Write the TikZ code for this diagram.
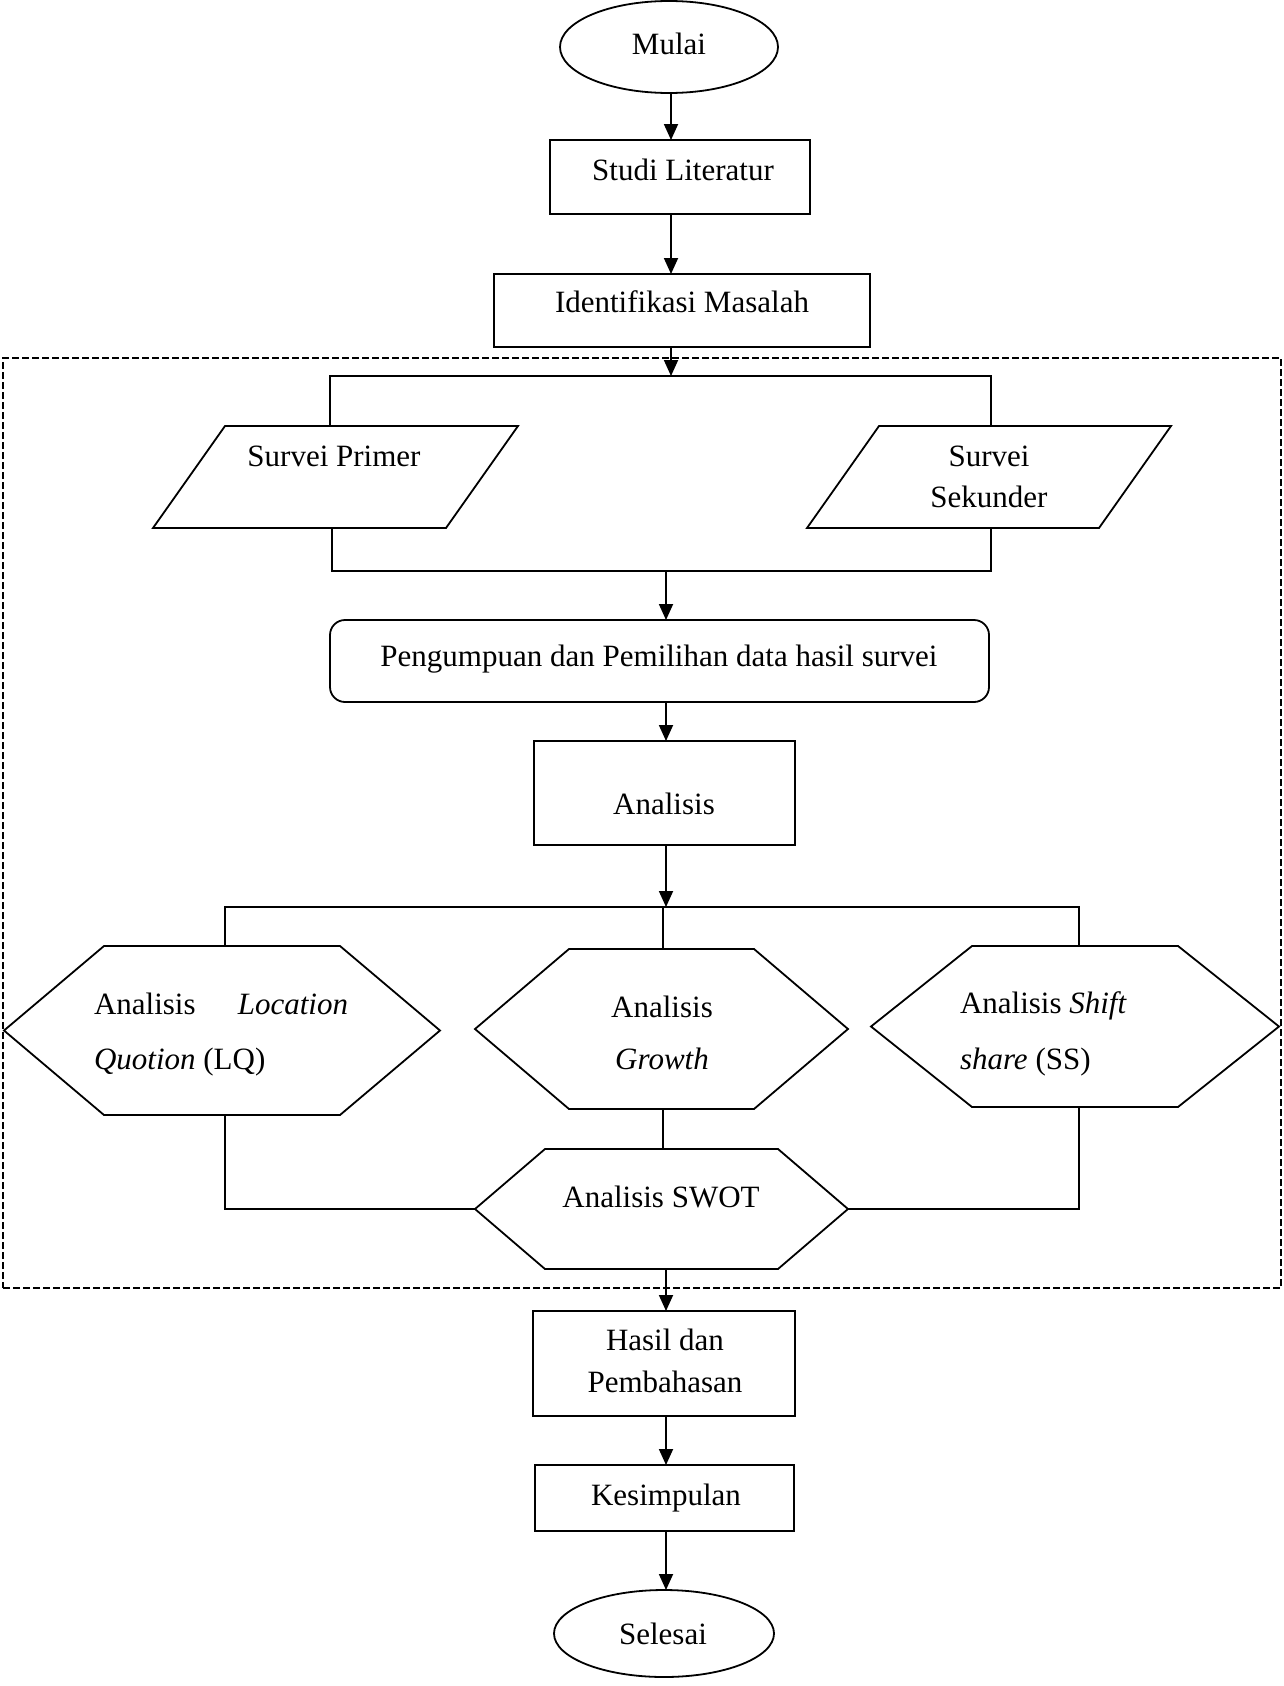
\documentclass[tikz,border=0pt]{standalone}
\usepackage{fontspec}
\setmainfont{Liberation Serif}
\usetikzlibrary{shapes.geometric,arrows.meta,calc}
\newcommand\hexpath[2]{\draw[shapeline] ($(#1.north west)+(#2,0)$) -- ($(#1.north east)-(#2,0)$) -- (#1.east) -- ($(#1.south east)-(#2,0)$) -- ($(#1.south west)+(#2,0)$) -- (#1.west) -- cycle;}
\newcommand\parapath[2]{\draw[shapeline] ($(#1.north west)+(#2,0)$) -- (#1.north east) -- ($(#1.south east)-(#2,0)$) -- (#1.south west) -- cycle;}
\tikzset{
  shapeline/.style={line width=1.8pt, line join=miter},
  box/.style={draw, line width=1.8pt, inner sep=0pt, outer sep=0pt, fill=white},
  blank/.style={inner sep=0pt, outer sep=0pt},
  lbl/.style={inner sep=0pt, outer sep=0pt, text height=20pt, text depth=0pt, font=\fontsize{31pt}{37pt}\selectfont},
  conn/.style={line width=1.6pt},
  arr/.style={line width=1.8pt, -{Triangle[length=16pt,width=14pt]}},
  grp/.style={draw, line width=1.6pt, dash pattern=on 7pt off 3pt, inner sep=0pt, outer sep=0pt}
}
\begin{document}
\begin{tikzpicture}[x=1pt,y=-1pt]
\useasboundingbox[fill=white] (0,0) rectangle (1284,1686);

% group frame
\node[grp, minimum width=1278pt, minimum height=930pt] (frame) at (642,823) {};

% spine coordinates
\coordinate (sp1) at (671,0);
\coordinate (sp2) at (666,0);

% top part
\node[box, ellipse, minimum width=218pt, minimum height=92pt] (mulai) at (669,47) {};
\node[box, minimum width=260pt, minimum height=74pt] (studi) at (680,177) {};
\node[box, minimum width=376pt, minimum height=73pt] (ident) at (682,310.5) {};

\draw[arr] (mulai.south -| sp1) -- (studi.north -| sp1);
\draw[arr] (studi.south -| sp1) -- (ident.north -| sp1);

% branch to surveys
\coordinate (brL) at (330,376);
\coordinate (brR) at (991,376);
\node[blank, minimum width=365pt, minimum height=102pt] (prim) at (335.5,477) {};
\node[blank, minimum width=364pt, minimum height=102pt] (sek) at (989,477) {};
\parapath{prim}{72}
\parapath{sek}{72}
\draw[conn] (brL |- prim.north) -- (brL) -- (brR) -- (brR |- sek.north);
\draw[arr] (ident.south -| sp1) -- (sp1 |- brL);

% join
\coordinate (jL) at (332,571);
\coordinate (jR) at (991,571);
\draw[conn] (jL |- prim.south) -- (jL) -- (jR) -- (jR |- sek.south);

\node[box, rounded corners=15pt, minimum width=659pt, minimum height=82pt] (peng) at (659.5,661) {};
\draw[arr] (sp2 |- jL) -- (peng.north -| sp2);

\node[box, minimum width=261pt, minimum height=104pt] (anal) at (664.5,793) {};
\draw[arr] (peng.south -| sp2) -- (anal.north -| sp2);

% hexagons
\coordinate (bL) at (225,907);
\coordinate (bM) at (663,907);
\coordinate (bR) at (1079,907);
\node[blank, minimum width=436pt, minimum height=169pt] (lq) at (222,1030.5) {};
\node[blank, minimum width=373pt, minimum height=160pt] (gr) at (661.5,1029) {};
\node[blank, minimum width=408pt, minimum height=161pt] (ss) at (1075,1026.5) {};
\node[blank, minimum width=373pt, minimum height=120pt] (swot) at (661.5,1209) {};
\hexpath{lq}{100}
\hexpath{gr}{94}
\hexpath{ss}{101}
\hexpath{swot}{70}
\draw[conn] (bL |- lq.north) -- (bL) -- (bR) -- (bR |- ss.north);
\draw[conn] (bM) -- (bM |- gr.north);
\draw[arr] (anal.south -| sp2) -- (sp2 |- bL);
\draw[conn] (bM |- gr.south) -- (bM |- swot.north);
\draw[conn] (bL |- lq.south) |- (swot.west);
\draw[conn] (bR |- ss.south) |- (swot.east);

% bottom part
\node[box, minimum width=262pt, minimum height=105pt] (hasil) at (664,1363.5) {};
\node[box, minimum width=259pt, minimum height=66pt] (kes) at (664.5,1498) {};
\node[box, ellipse, minimum width=220pt, minimum height=87pt] (sel) at (664,1633.5) {};
\draw[arr] (swot.south -| sp2) -- (hasil.north -| sp2);
\draw[arr] (hasil.south -| sp2) -- (kes.north -| sp2);
\draw[arr] (kes.south -| sp2) -- (sel.north -| sp2);

% labels
\node[lbl] (tmulai) at (669,45) {Mulai};
\node[lbl] (tstudi) at (683,170) {Studi Literatur};
\node[lbl] (tident) at (682,302) {Identifikasi Masalah};
\node[lbl] (tprim) at (334,456) {Survei Primer};
\node[lbl] (tsek1) at (989,456) {Survei};
\node[lbl] (tsek2) at (989,497) {Sekunder};
\node[lbl] (tpeng) at (659,656) {Pengumpuan dan Pemilihan data hasil survei};
\node[lbl] (tanal) at (664,804) {Analisis};
\node[lbl, anchor=west] (tlq1) at (94,1004) {Analisis};
\node[lbl, anchor=east] (tlq2) at (348,1004) {\textit{Location}};
\node[lbl, anchor=west] (tlq3) at (94,1059) {\textit{Quotion} (LQ)};
\node[lbl] (tgr1) at (662,1007) {Analisis};
\node[lbl] (tgr2) at (662,1059) {\textit{Growth}};
\node[lbl, anchor=west] (tss1) at (960,1003) {Analisis \textit{Shift}};
\node[lbl, anchor=west] (tss2) at (960,1059) {\textit{share} (SS)};
\node[lbl] (tswot) at (661,1197) {Analisis SWOT};
\node[lbl] (thas1) at (665,1340) {Hasil dan};
\node[lbl] (thas2) at (665,1382) {Pembahasan};
\node[lbl] (tkes) at (666,1495) {Kesimpulan};
\node[lbl] (tsel) at (663,1634) {Selesai};
\end{tikzpicture}
\end{document}
